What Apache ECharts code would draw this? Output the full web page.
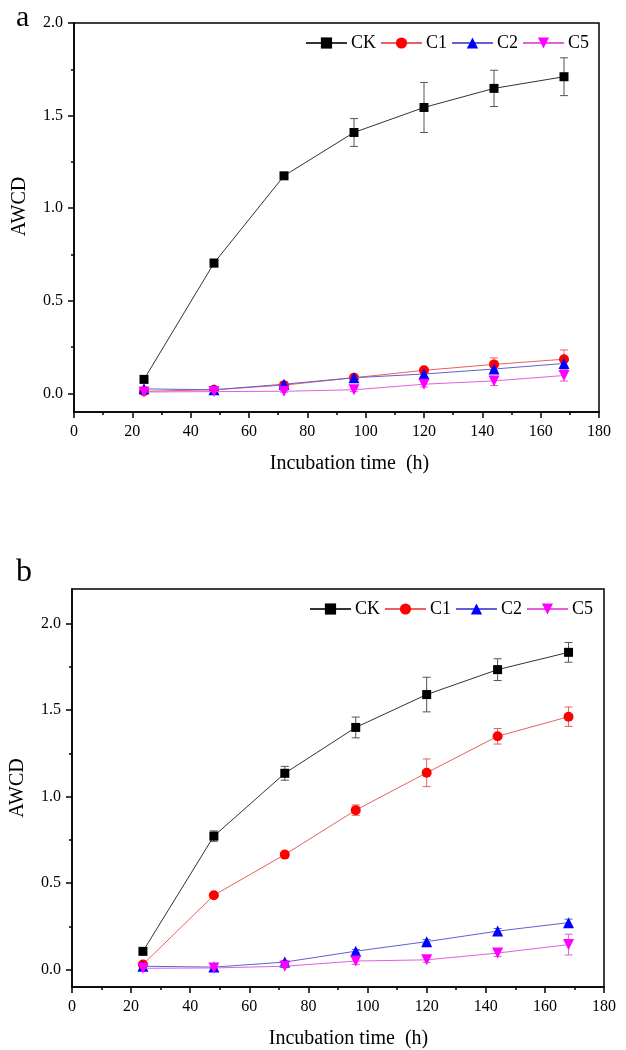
<!DOCTYPE html>
<html>
<head>
<meta charset="utf-8">
<script src="https://cdn.jsdelivr.net/npm/echarts@6/dist/echarts.min.js"></script>
<style>html,body{margin:0;padding:0;background:#fff;}#chart{width:626px;height:1050px;}</style>
</head>
<body>
<div id="chart"></div>
<script>
const times = [24, 48, 72, 96, 120, 144, 168];
const seriesNames = ['CK', 'C1', 'C2', 'C5'];
const xTickLabels = [0, 20, 40, 60, 80, 100, 120, 140, 160, 180];
const yTickLabels = [0, 0.5, 1.0, 1.5, 2.0];
const yMinorTicks = [0.25, 0.75, 1.25, 1.75];

// Panel a
const aCK = [0.076, 0.704, 1.175, 1.409, 1.544, 1.647, 1.710];
const aCKErr = [0.010, 0.020, 0.015, 0.075, 0.135, 0.098, 0.102];
const aC1 = [0.012, 0.020, 0.045, 0.085, 0.125, 0.157, 0.185];
const aC1Err = [0.005, 0.005, 0.008, 0.010, 0.015, 0.035, 0.050];
const aC2 = [0.025, 0.020, 0.050, 0.085, 0.105, 0.132, 0.162];
const aC2Err = [0.005, 0.005, 0.010, 0.015, 0.015, 0.020, 0.030];
const aC5 = [0.008, 0.010, 0.012, 0.020, 0.050, 0.068, 0.097];
const aC5Err = [0.005, 0.005, 0.005, 0.010, 0.015, 0.025, 0.030];

// Panel b
const bCK = [0.106, 0.772, 1.135, 1.400, 1.590, 1.734, 1.834];
const bCKErr = [0.010, 0.030, 0.040, 0.060, 0.100, 0.063, 0.057];
const bC1 = [0.030, 0.430, 0.665, 0.922, 1.138, 1.349, 1.462];
const bC1Err = [0.010, 0.010, 0.015, 0.030, 0.080, 0.045, 0.056];
const bC2 = [0.020, 0.015, 0.044, 0.107, 0.162, 0.223, 0.272];
const bC2Err = [0.005, 0.005, 0.008, 0.010, 0.012, 0.015, 0.020];
const bC5 = [0.008, 0.010, 0.020, 0.050, 0.057, 0.096, 0.145];
const bC5Err = [0.005, 0.005, 0.008, 0.020, 0.015, 0.020, 0.060];

const FONT = 'Liberation Serif';
const markerColors = ['#000000', '#ff0000', '#0000ff', '#ff00ff'];
const lineColors = ['#333333', '#e86060', '#6060d0', '#e060e0'];
const errColors = ['#555555', '#e86060', '#6060d0', '#e060e0'];
const symbols = ['rect', 'circle', 'triangle', 'triangle'];
const symbolSizes = [9, 10, 11, 11];
const symbolRotates = [0, 0, 0, 180];

const panels = [
  { vals: [aCK, aC1, aC2, aC5], errs: [aCKErr, aC1Err, aC2Err, aC5Err] },
  { vals: [bCK, bC1, bC2, bC5], errs: [bCKErr, bC1Err, bC2Err, bC5Err] }
];

function errRenderer(params, api) {
  const x = api.value(0), lo = api.value(1), hi = api.value(2);
  const p1 = api.coord([x, hi]);
  const p2 = api.coord([x, lo]);
  const color = api.visual('color');
  const w = 4;
  const st = { stroke: color, lineWidth: 1 };
  return {
    type: 'group',
    children: [
      { type: 'line', shape: { x1: p1[0], y1: p1[1], x2: p2[0], y2: p2[1] }, style: st },
      { type: 'line', shape: { x1: p1[0] - w, y1: p1[1], x2: p1[0] + w, y2: p1[1] }, style: st },
      { type: 'line', shape: { x1: p2[0] - w, y1: p2[1], x2: p2[0] + w, y2: p2[1] }, style: st }
    ]
  };
}

const series = [];
panels.forEach((panel, pi) => {
  panel.vals.forEach((vals, si) => {
    series.push({
      type: 'line',
      name: seriesNames[si],
      xAxisIndex: pi,
      yAxisIndex: pi * 2,
      data: times.map((t, i) => [t, vals[i]]),
      symbol: symbols[si],
      symbolSize: symbolSizes[si],
      symbolRotate: symbolRotates[si],
      showAllSymbol: true,
      itemStyle: { color: markerColors[si] },
      lineStyle: { color: lineColors[si], width: 1 },
      z: 3 + si
    });
  });
  panel.vals.forEach((vals, si) => {
    series.push({
      type: 'custom',
      name: seriesNames[si] + ' error',
      xAxisIndex: pi,
      yAxisIndex: pi * 2,
      renderItem: errRenderer,
      itemStyle: { color: errColors[si] },
      encode: { x: 0, y: [1, 2] },
      data: times.map((t, i) => [t, vals[i] - panel.errs[si][i], vals[i] + panel.errs[si][i]]),
      z: 2,
      silent: true
    });
  });
});

const grids = [
  { left: 74, right: 27, top: 23, height: 389 },
  { left: 70, right: 22, top: 589, height: 398 }
];

function makeXAxis(gi, shiftPad) {
  return {
    type: 'value', gridIndex: gi, min: 0, max: 180, interval: 20, position: 'bottom',
    axisLine: { show: true, onZero: false, lineStyle: { color: '#000', width: 1.5 } },
    axisTick: { show: true, inside: false, length: 6, lineStyle: { color: '#000', width: 1.5 } },
    minorTick: { show: true, splitNumber: 2, length: 3, lineStyle: { color: '#000', width: 1.5 } },
    splitLine: { show: false },
    axisLabel: { color: '#000', fontFamily: FONT, fontSize: 16, margin: 12,
      formatter: v => (xTickLabels.indexOf(v) >= 0 ? String(v) : '') },
    name: 'Incubation time  (h)', nameLocation: 'middle', nameGap: 42,
    nameTextStyle: { color: '#000', fontFamily: FONT, fontSize: 20, padding: [0, 0, 0, shiftPad] }
  };
}

function makeYAxes(gi, max, namePad) {
  return [
    {
      type: 'value', gridIndex: gi, min: -0.1, max: max, position: 'left',
      axisLine: { show: true, onZero: false, lineStyle: { color: '#000', width: 1.5 } },
      axisTick: { show: true, inside: false, length: 6, customValues: yTickLabels, lineStyle: { color: '#000', width: 1.5 } },
      splitLine: { show: false },
      axisLabel: { color: '#000', fontFamily: FONT, fontSize: 16, margin: 11,
        customValues: yTickLabels, formatter: v => Number(v).toFixed(1) },
      name: 'AWCD', nameLocation: 'middle', nameGap: 44, nameRotate: 90,
      nameTextStyle: { color: '#000', fontFamily: FONT, fontSize: 20, padding: namePad }
    },
    {
      type: 'value', gridIndex: gi, min: -0.1, max: max, position: 'left', offset: 0,
      axisLine: { show: false, onZero: false },
      axisTick: { show: true, inside: false, length: 3, customValues: yMinorTicks, lineStyle: { color: '#000', width: 1.5 } },
      splitLine: { show: false },
      axisLabel: { show: false }
    }
  ];
}

const legendCommon = {
  data: seriesNames,
  right: 32,
  orient: 'horizontal',
  itemWidth: 41,
  itemHeight: 14,
  itemGap: 4,
  textStyle: { color: '#000', fontFamily: FONT, fontSize: 18, padding: [0, 0, 0, -1] },
  selectedMode: false
};

const option = {
  animation: false,
  backgroundColor: '#fff',
  title: [
    { text: 'a', left: 11, top: -2, textStyle: { fontFamily: FONT, fontSize: 30, fontWeight: 'normal', color: '#000' } },
    { text: 'b', left: 11, top: 552, textStyle: { fontFamily: FONT, fontSize: 32, fontWeight: 'normal', color: '#000' } }
  ],
  legend: [
    Object.assign({}, legendCommon, { top: 29 }),
    Object.assign({}, legendCommon, { top: 595, right: 28 })
  ],
  grid: grids.map(g => Object.assign({ show: true, borderColor: '#000', borderWidth: 1.5, backgroundColor: 'transparent' }, g)),
  xAxis: [makeXAxis(0, 26), makeXAxis(1, 21)],
  yAxis: makeYAxes(0, 2.0, [0, 0, 0, 22]).concat(makeYAxes(1, 2.2, [0, 0, 0, 0])),
  series: series
};

const chart = echarts.init(document.getElementById('chart'), null, { renderer: 'canvas' });
chart.setOption(option);
</script>
</body>
</html>
